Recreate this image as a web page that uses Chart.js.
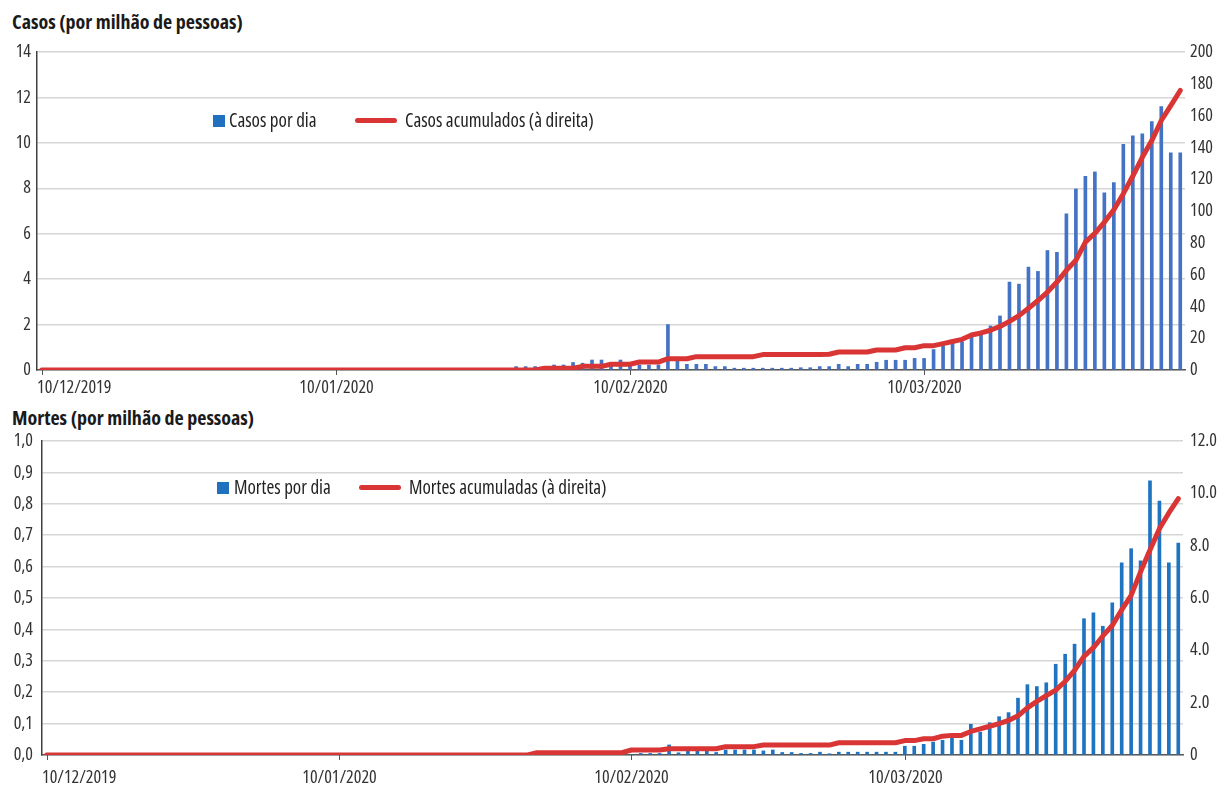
<!DOCTYPE html>
<html>
<head>
<meta charset="utf-8">
<script src="https://cdn.jsdelivr.net/npm/chart.js@4.4.1/dist/chart.umd.min.js"></script>
<style>
  body { margin: 0; background: #fff; width: 1227px; height: 785px; overflow: hidden; position: relative;
         font-family: "Open Sans", sans-serif; font-stretch: condensed; color: #222; }
  canvas { position: absolute; left: 0; }
  .title { position: absolute; left: 12px; font-weight: bold; font-size: 20px; line-height: 24px; color: #1a1a1a; }
  .leg { position: absolute; font-size: 19px; line-height: 24px; white-space: nowrap; }
  .sq { position: absolute; width: 12px; height: 12px; background: #2170c0; }
  .ln { position: absolute; width: 42px; height: 5px; border-radius: 3px; background: #d93535; }
</style>
</head>
<body>
<div class="title" style="top:10px">Casos (por milhão de pessoas)</div>
<div class="title" style="top:406px">Mortes (por milhão de pessoas)</div>
<canvas id="casos" width="1227" height="395" style="top:0"></canvas>
<canvas id="mortes" width="1227" height="390" style="top:395px"></canvas>

<div class="sq" style="left:213px;top:115px"></div>
<div class="leg" style="left:229px;top:108px">Casos por dia</div>
<div class="ln" style="left:355px;top:118px"></div>
<div class="leg" style="left:405px;top:108px">Casos acumulados (à direita)</div>

<div class="sq" style="left:217px;top:482px"></div>
<div class="leg" style="left:234px;top:475px">Mortes por dia</div>
<div class="ln" style="left:359px;top:485px"></div>
<div class="leg" style="left:409px;top:475px">Mortes acumuladas (à direita)</div>

<script>
// one category per day, 10/12/2019 .. 08/04/2020
var dias = [];
var d0 = new Date(2019, 11, 10);
for (var i = 0; i < 121; i++) {
    var d = new Date(d0.getFullYear(), d0.getMonth(), d0.getDate() + i);
    dias.push(('0' + d.getDate()).slice(-2) + '/' + ('0' + (d.getMonth() + 1)).slice(-2) + '/' + d.getFullYear());
}

var tickLabels = ['10/12/2019', '10/01/2020', '10/02/2020', '10/03/2020'];
var casosTickIdx = [0, 31, 62, 93];
var mortesTickIdx = [0, 31, 62, 91];

var casosDia = [
    0, 0, 0, 0, 0, 0, 0, 0, 0, 0,
    0, 0, 0, 0, 0, 0, 0, 0, 0, 0,
    0, 0, 0, 0, 0, 0, 0, 0, 0, 0,
    0, 0, 0, 0, 0, 0, 0, 0, 0, 0,
    0, 0, 0, 0, 0, 0, 0, 0, 0, 0,
    0.15, 0.15, 0.15, 0, 0.22, 0.22, 0.33, 0.3, 0.44, 0.44,
    0.3, 0.44, 0.22, 0.22, 0.22, 0.22, 2.0, 0.44, 0.25, 0.25,
    0.25, 0.15, 0.15, 0.08, 0.08, 0.08, 0.08, 0.08, 0.08, 0.08,
    0.1, 0.1, 0.15, 0.15, 0.25, 0.15, 0.25, 0.25, 0.34, 0.43,
    0.43, 0.43, 0.51, 0.51, 0.9, 1.07, 1.18, 1.25, 1.62, 1.54,
    1.94, 2.38, 3.87, 3.78, 4.53, 4.34, 5.26, 5.18, 6.87, 7.97,
    8.53, 8.72, 7.8, 8.25, 9.93, 10.31, 10.4, 10.94, 11.6, 9.56,
    9.56
];
var casosAcum = [
    0, 0, 0, 0, 0, 0, 0, 0, 0, 0,
    0, 0, 0, 0, 0, 0, 0, 0, 0, 0,
    0, 0, 0, 0, 0, 0, 0, 0, 0, 0,
    0, 0, 0, 0, 0, 0, 0, 0, 0, 0,
    0, 0, 0, 0, 0, 0, 0, 0, 0, 0,
    0, 0, 0, 1.1, 1.1, 1.1, 1.1, 2.3, 2.3, 2.3,
    3.6, 3.6, 3.6, 5.0, 5.0, 5.0, 7.1, 7.1, 7.1, 8.4,
    8.4, 8.4, 8.4, 8.4, 8.4, 8.4, 9.7, 9.7, 9.7, 9.7,
    9.8, 9.8, 9.8, 9.9, 11.3, 11.3, 11.3, 11.3, 12.6, 12.6,
    12.6, 14, 14, 15.3, 15.3, 16.6, 17.9, 19.3, 22, 23.3,
    25, 27.4, 30.6, 34.2, 38.8, 43.7, 49, 55.3, 62.7, 69,
    80.4, 86, 93, 100.8, 110.9, 122, 133.8, 144.3, 156.9, 166.3,
    175.8
];

var mortesDia = [
    0, 0, 0, 0, 0, 0, 0, 0, 0, 0,
    0, 0, 0, 0, 0, 0, 0, 0, 0, 0,
    0, 0, 0, 0, 0, 0, 0, 0, 0, 0,
    0, 0, 0, 0, 0, 0, 0, 0, 0, 0,
    0, 0, 0, 0, 0, 0, 0, 0, 0, 0,
    0, 0, 0, 0, 0, 0, 0, 0, 0, 0,
    0, 0, 0, 0.005, 0.005, 0.005, 0.032, 0.007, 0.013, 0.013,
    0.013, 0.008, 0.016, 0.016, 0.016, 0.016, 0.013, 0.016, 0.008, 0.008,
    0.005, 0.005, 0.009, 0.004, 0.009, 0.009, 0.009, 0.009, 0.009, 0.009,
    0.009, 0.028, 0.028, 0.034, 0.041, 0.047, 0.055, 0.047, 0.098, 0.073,
    0.103, 0.122, 0.135, 0.181, 0.224, 0.218, 0.23, 0.289, 0.321, 0.353,
    0.434, 0.453, 0.41, 0.485, 0.612, 0.657, 0.618, 0.873, 0.809, 0.612,
    0.675
];
var mortesAcum = [
    0, 0, 0, 0, 0, 0, 0, 0, 0, 0,
    0, 0, 0, 0, 0, 0, 0, 0, 0, 0,
    0, 0, 0, 0, 0, 0, 0, 0, 0, 0,
    0, 0, 0, 0, 0, 0, 0, 0, 0, 0,
    0, 0, 0, 0, 0, 0, 0, 0, 0, 0,
    0, 0, 0.09, 0.09, 0.09, 0.09, 0.09, 0.09, 0.09, 0.09,
    0.09, 0.09, 0.19, 0.19, 0.19, 0.19, 0.24, 0.24, 0.24, 0.24,
    0.24, 0.24, 0.32, 0.32, 0.32, 0.32, 0.38, 0.38, 0.38, 0.38,
    0.38, 0.38, 0.38, 0.38, 0.47, 0.47, 0.47, 0.47, 0.47, 0.47,
    0.47, 0.55, 0.55, 0.62, 0.62, 0.72, 0.75, 0.75, 0.9, 1.0,
    1.1, 1.2, 1.32, 1.5, 1.8, 2.05, 2.27, 2.48, 2.81, 3.23,
    3.77, 4.1, 4.55, 4.95, 5.55, 6.1, 7.0, 7.83, 8.65, 9.25,
    9.8
];

var FONT = '"Open Sans", sans-serif';
Chart.defaults.font.family = FONT;
Chart.defaults.font.weight = 'condensed';   // goes into the canvas font shorthand as font-stretch
Chart.defaults.color = '#333';

// draws the few date labels and their tick marks under the x axis
var xLabelsPlugin = {
    id: 'xLabels',
    afterDraw: function(chart, args, opts) {
        var x = chart.scales.x, ctx = chart.ctx, area = chart.chartArea;
        ctx.save();
        ctx.font = 'condensed 18px ' + FONT;
        ctx.fillStyle = '#333';
        ctx.strokeStyle = '#555';
        ctx.lineWidth = 1;
        ctx.textBaseline = 'top';
        opts.idx.forEach(function(idx, k) {
            var px = Math.round(x.getPixelForValue(idx)) + 0.5;
            ctx.beginPath();
            ctx.moveTo(px, area.bottom);
            ctx.lineTo(px, area.bottom + 5);
            ctx.stroke();
            ctx.textAlign = k === 0 ? 'left' : 'center';
            ctx.fillText(opts.labels[k], k === 0 ? area.left : px, area.bottom + opts.gap);
        });
        ctx.restore();
    }
};

function makeChart(id, cfg) {
    return new Chart(document.getElementById(id), {
        type: 'bar',
        data: {
            labels: dias,
            datasets: [{
                type: 'line',
                data: cfg.acum,
                yAxisID: 'y1',
                borderColor: '#d93535',
                borderWidth: 5,
                borderCapStyle: 'round',
                borderJoinStyle: 'round',
                pointRadius: 0,
                tension: 0,
                order: 0
            }, {
                data: cfg.dia,
                yAxisID: 'y',
                backgroundColor: cfg.barColor,
                barThickness: 3,
                order: 1
            }]
        },
        options: {
            responsive: false,
            animation: false,
            layout: { padding: { top: cfg.top, left: 0, right: 0, bottom: 0 } },
            plugins: {
                legend: { display: false },
                tooltip: { enabled: false },
                xLabels: { idx: cfg.tickIdx, labels: tickLabels, gap: cfg.gap }
            },
            scales: {
                x: {
                    offset: true,
                    grid: { display: false },
                    border: { display: true, color: '#595959', width: 1.5 },
                    ticks: { display: false },
                    afterFit: function(s) { s.height = cfg.xh; }
                },
                y: {
                    position: 'left',
                    min: 0, max: cfg.max,
                    grid: { color: '#d6d6d6', lineWidth: 1.5, drawTicks: false },
                    border: { display: true, color: '#404040', width: 1.5 },
                    ticks: { stepSize: cfg.step, padding: cfg.padL, font: { size: 18 }, callback: cfg.fmtL },
                    afterFit: function(s) { s.width = cfg.wl; }
                },
                y1: {
                    position: 'right',
                    min: 0, max: cfg.max1,
                    grid: { display: false, drawTicks: false },
                    border: { display: false },
                    ticks: { stepSize: cfg.step1, padding: cfg.padR, font: { size: 18 }, callback: cfg.fmtR },
                    afterFit: function(s) { s.width = cfg.wr; }
                }
            }
        },
        plugins: [xLabelsPlugin]
    });
}

makeChart('casos', {
    dia: casosDia, acum: casosAcum, barColor: '#4472c4', tickIdx: casosTickIdx,
    top: 52, xh: 25, wl: 37, wr: 42, gap: 9,
    max: 14, step: 2, max1: 200, step1: 20, padL: 6, padR: 5,
    fmtL: function(v) { return v; },
    fmtR: function(v) { return v; }
});

makeChart('mortes', {
    dia: mortesDia, acum: mortesAcum, barColor: '#1f74c2', tickIdx: mortesTickIdx,
    top: 46, xh: 30, wl: 42, wr: 44, gap: 14,
    max: 1, step: 0.1, max1: 12, step1: 2, padL: 9, padR: 7,
    fmtL: function(v) { return v.toFixed(1).replace('.', ','); },
    fmtR: function(v) { return v === 0 ? '0' : v.toFixed(1); }
});
</script>
</body>
</html>
